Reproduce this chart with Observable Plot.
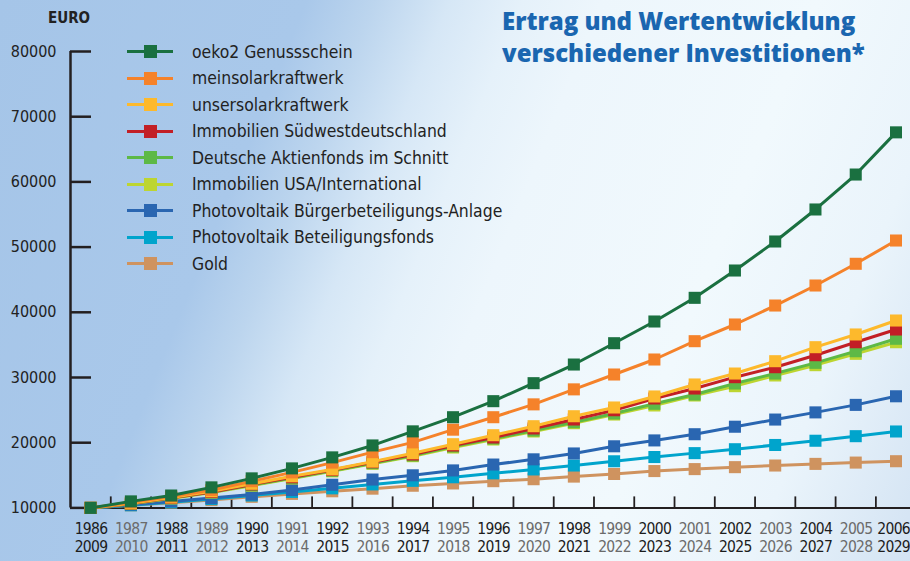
<!DOCTYPE html>
<html><head><meta charset="utf-8">
<script src="https://cdn.jsdelivr.net/npm/d3@7"></script>
<script src="https://cdn.jsdelivr.net/npm/@observablehq/plot@0.6"></script>
<style>
html,body{margin:0;padding:0;}
#wrap{position:relative;width:910px;height:561px;overflow:hidden;
  background:linear-gradient(112deg,#a5c5e8 0%,#a9c8ea 27%,#bcd5ee 33%,#d6e7f6 39.6%,#e5f1fa 46%,#edf6fc 53%,#f1f9fd 72%,#eaf4fb 86%,#d3e3f3 100%);
  font-family:"DejaVu Sans Condensed","DejaVu Sans",sans-serif;font-stretch:condensed;color:#222;}
#chart{position:absolute;left:0;top:0;}
#chart g[aria-label="text"] text{letter-spacing:-0.7px;}
#title{position:absolute;left:502px;top:5px;color:#1a66b0;font-family:"Open Sans",sans-serif;font-stretch:normal;font-weight:800;font-size:24px;line-height:32px;white-space:nowrap;}
#legend{position:absolute;left:127px;top:38.5px;}
.row{display:flex;align-items:center;height:26.5px;font-size:17.4px;white-space:nowrap;}
.sw{position:relative;width:46px;height:13px;margin-right:19px;flex:none;}
.sw .ln{position:absolute;left:0;right:0;top:5px;height:3px;}
.sw .sq{position:absolute;left:16.5px;top:0;width:13px;height:13px;}
#euro{position:absolute;left:48px;top:9px;font-weight:bold;font-size:15px;}
</style></head>
<body>
<div id="wrap">
  <div id="chart"></div>
  <div id="euro">EURO</div>
  <div id="title">Ertrag und Wertentwicklung<br>verschiedener Investitionen*</div>
  <div id="legend"></div>
</div>
<script>
const years = d3.range(1986, 2007);
const labelsTop = years.map(String);
const labelsBottom = ["2009","2010","2011","2012","2013","2014","2015","2016","2017","2018","2019","2020","2021","2022","2023","2024","2025","2026","2027","2028","2029"];
const yTicks = [10000, 20000, 30000, 40000, 50000, 60000, 70000, 80000];

const seriesNames = [
  "oeko2 Genussschein",
  "meinsolarkraftwerk",
  "unsersolarkraftwerk",
  "Immobilien Südwestdeutschland",
  "Deutsche Aktienfonds im Schnitt",
  "Immobilien USA/International",
  "Photovoltaik Bürgerbeteiligungs-Anlage",
  "Photovoltaik Beteiligungsfonds",
  "Gold"
];
const seriesColors = ["#1a7040","#f5822a","#fdb92c","#c21f26","#5db946","#bdd531","#2a66b1","#00a4cc","#cf935f"];

const oeko2      = [10000,11000,11900,13150,14530,16060,17750,19580,21740,23910,26370,29130,31990,35260,38590,42220,46410,50860,55770,61130,67600];
const meinsolar  = [10000,10850,11750,12750,14100,15450,16950,18550,20050,22000,23910,25880,28180,30460,32760,35570,38130,41040,44110,47440,51010];
const unsersolar = [10000,10700,11600,12550,13700,14850,15900,17100,18390,19770,21150,22530,24060,25400,27090,28930,30610,32500,34650,36600,38740];
const immoSW     = [10000,10680,11550,12450,13600,14700,15800,17000,18190,19570,20800,22180,23560,24980,26780,28310,30050,31580,33420,35410,37360];
const aktien     = [10000,10650,11500,12400,13500,14600,15700,16860,18040,19420,20640,21870,23140,24480,25970,27390,29080,30610,32250,34030,35940];
const immoUSA    = [10000,10630,11450,12350,13400,14500,15600,16760,17930,19260,20490,21720,22990,24320,25710,27240,28670,30310,31890,33630,35410];
const pvBuerger  = [10000,10500,11000,11500,12050,12750,13550,14350,15000,15750,16650,17450,18350,19450,20350,21300,22450,23550,24650,25800,27120];
const pvFonds    = [10000,10400,10850,11350,11900,12450,13000,13600,14150,14700,15300,15900,16500,17150,17800,18400,19000,19650,20300,21000,21720];
const gold       = [10000,10400,10800,11200,11700,12150,12550,12950,13400,13750,14100,14400,14800,15200,15650,15950,16250,16500,16750,16950,17160];

const seriesValues = [oeko2, meinsolar, unsersolar, immoSW, aktien, immoUSA, pvBuerger, pvFonds, gold];

const xDomain = [1985.5, 2006.36];
const halfYears = years.slice(0, -1).map(y => y + 0.5);
const labelRows = years.map((y, i) => ({year: y, top: labelsTop[i], bottom: labelsBottom[i], odd: i % 2 === 1}));
const innerRows = labelRows.slice(0, -1);
const lastRow = labelRows.slice(-1);
const axisColor = "#231f20";
const labelFill = d => d.odd ? "#6b6b6b" : "#1c1c1c";

const seriesMarks = [];
for (let s = seriesNames.length - 1; s >= 0; s--) {
  const data = years.map((y, i) => ({year: y, value: seriesValues[s][i]}));
  seriesMarks.push(Plot.line(data, {x: "year", y: "value", stroke: seriesColors[s], strokeWidth: 3}));
  seriesMarks.push(Plot.dot(data, {x: "year", y: "value", symbol: "square", r: 6.8, fill: seriesColors[s]}));
}

const yearText = (rows, key, dy, extra = {}) =>
  Plot.text(rows, {x: "year", text: key, frameAnchor: "bottom", dy, dx: 0.35, fontSize: 15.5, fill: labelFill, ...extra});

const chart = Plot.plot({
  width: 910, height: 561,
  marginLeft: 70, marginRight: 0, marginTop: 51, marginBottom: 53.6,
  x: {domain: xDomain, axis: null},
  y: {domain: [10000, 80000], axis: null},
  style: {background: "transparent", overflow: "visible", fontFamily: "'DejaVu Sans Condensed','DejaVu Sans',sans-serif", fontStretch: "condensed"},
  marks: [
    Plot.axisY(yTicks, {anchor: "left", tickSize: 0, tickPadding: 14, fontSize: 16, fill: "#222", label: null, tickFormat: d => String(d)}),
    Plot.axisY(yTicks, {anchor: "left", tickSize: 21, dx: 21, fill: "none", stroke: axisColor, strokeWidth: 2.5, label: null}),
    Plot.axisX(halfYears, {anchor: "bottom", tickSize: 11, dy: -11, fill: "none", stroke: axisColor, strokeWidth: 1.8, label: null}),
    Plot.ruleX([xDomain[0]], {y1: 10000, y2: 80000, stroke: axisColor, strokeWidth: 2.5}),
    Plot.ruleY([10000], {stroke: axisColor, strokeWidth: 2}),
    ...seriesMarks,
    yearText(innerRows, "top", 26),
    yearText(innerRows, "bottom", 44),
    yearText(lastRow, "top", 26, {dx: 14, textAnchor: "end"}),
    yearText(lastRow, "bottom", 44, {dx: 14, textAnchor: "end"})
  ]
});
document.getElementById("chart").appendChild(chart);

const legend = document.getElementById("legend");
seriesNames.forEach((name, i) => {
  const row = document.createElement("div");
  row.className = "row";
  row.innerHTML = `<div class="sw"><div class="ln" style="background:${seriesColors[i]}"></div><div class="sq" style="background:${seriesColors[i]}"></div></div><span>${name}</span>`;
  legend.appendChild(row);
});
</script>
</body></html>
